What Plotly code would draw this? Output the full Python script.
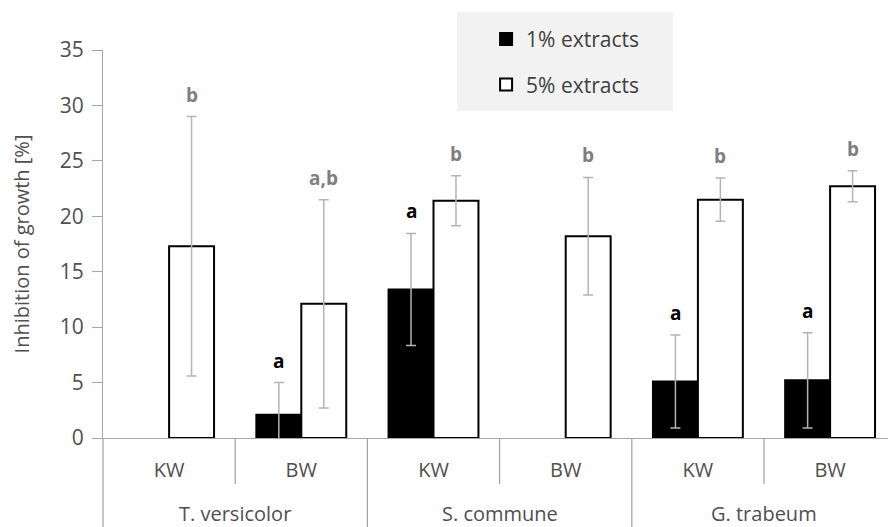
import plotly.graph_objects as go

# ---- data ----
species = ["T. versicolor", "S. commune", "G. trabeum"]
woods = ["KW", "BW"]
categories = [f"{s} {w}" for s in species for w in woods]
tick_labels = [w for s in species for w in woods]

ext1 = [None, 2.1, 13.4, None, 5.1, 5.2]
ext1_err = [None, 2.9, 5.05, None, 4.2, 4.3]
ext5 = [17.3, 12.1, 21.4, 18.2, 21.5, 22.7]
ext5_err = [11.7, 9.4, 2.25, 5.3, 1.95, 1.4]
letters1 = [None, "a", "a", None, "a", "a"]
letters5 = ["b", "a,b", "b", "b", "b", "b"]

FONT = "Open Sans"
AXIS_GRAY = "#a6a6a6"
TEXT_GRAY = "#505050"
ERR_GRAY = "#b4b4b4"
BARGAP = 0.32

fig = go.Figure()
fig.add_trace(go.Bar(
    name="1% extracts", x=categories, y=ext1,
    marker=dict(color="black", line=dict(color="black", width=2)),
    error_y=dict(type="data", array=ext1_err, color=ERR_GRAY, thickness=1.5, width=5),
    legendgroup="g1",
))
fig.add_trace(go.Bar(
    name="5% extracts", x=categories, y=ext5,
    marker=dict(color="white", line=dict(color="black", width=2)),
    error_y=dict(type="data", array=ext5_err, color=ERR_GRAY, thickness=1.5, width=5),
    legendgroup="g2",
))

# significance letters above error bars
off = (1 - BARGAP) / 4
annotations = []
for i in range(len(categories)):
    if letters1[i] is not None:
        annotations.append(dict(
            x=i - off, y=ext1[i] + ext1_err[i], xref="x", yref="y",
            text=f"<b>{letters1[i]}</b>", showarrow=False, yanchor="bottom", yshift=7,
            font=dict(family=FONT, size=19, color="black")))
    if letters5[i] is not None:
        annotations.append(dict(
            x=i + off, y=ext5[i] + ext5_err[i], xref="x", yref="y",
            text=f"<b>{letters5[i]}</b>", showarrow=False, yanchor="bottom", yshift=7,
            font=dict(family=FONT, size=19, color="#7f7f7f")))

# species group labels
for g, s in enumerate(species):
    annotations.append(dict(
        x=g * 2 + 0.5, y=-0.1933, xref="x", yref="paper", text=s, showarrow=False,
        yanchor="middle", font=dict(family=FONT, size=20, color=TEXT_GRAY)))

shapes = []
# legend background box
shapes.append(dict(type="rect", xref="paper", yref="paper", x0=0.451, x1=0.726,
                   y0=0.843, y1=1.098, fillcolor="#f2f2f2", line=dict(width=0), layer="below"))
# short dividers between KW / BW
for g in range(len(species)):
    shapes.append(dict(type="line", xref="x", yref="paper", x0=g * 2 + 0.5, x1=g * 2 + 0.5,
                       y0=0, y1=-0.1186, line=dict(color=AXIS_GRAY, width=1.3)))
# long dividers between species
shapes.append(dict(type="line", xref="x domain", yref="paper", x0=0, x1=0,
                   y0=0, y1=-0.23, line=dict(color=AXIS_GRAY, width=1.3)))
for g in range(1, len(species) + 1):
    shapes.append(dict(type="line", xref="x", yref="paper", x0=g * 2 - 0.5, x1=g * 2 - 0.5,
                       y0=0, y1=-0.23, line=dict(color=AXIS_GRAY, width=1.3)))

fig.update_layout(
    width=888, height=527,
    margin=dict(l=103, r=0, t=50, b=89),
    paper_bgcolor="white", plot_bgcolor="white",
    barmode="group", bargap=BARGAP, bargroupgap=0,
    showlegend=True,
    legend=dict(x=0.488, y=1.08, xanchor="left", yanchor="top",
                bgcolor="rgba(0,0,0,0)", traceorder="grouped", tracegroupgap=15,
                itemwidth=30,
                font=dict(family=FONT, size=21, color="#404040")),
    xaxis=dict(type="category", categoryorder="array", categoryarray=categories,
               tickmode="array", tickvals=categories, ticktext=tick_labels,
               range=[-0.5, 5.438], showline=True, linecolor=AXIS_GRAY, linewidth=1.3,
               ticks="", showgrid=False, zeroline=False, ticklabelstandoff=14,
               tickfont=dict(family=FONT, size=20, color=TEXT_GRAY)),
    yaxis=dict(range=[0, 35], dtick=5, showline=True, linecolor=AXIS_GRAY, linewidth=1.3,
               ticks="outside", ticklen=10, tickwidth=1.3, tickcolor=AXIS_GRAY,
               showgrid=False, zeroline=False, ticklabelstandoff=4,
               tickfont=dict(family=FONT, size=21, color=TEXT_GRAY),
               title=dict(text="Inhibition of growth [%]", standoff=24,
                          font=dict(family=FONT, size=20, color=TEXT_GRAY))),
    annotations=annotations,
    shapes=shapes,
)

fig.write_html("out.html", config={"displayModeBar": False},
               post_script="document.body.style.margin='0';")
